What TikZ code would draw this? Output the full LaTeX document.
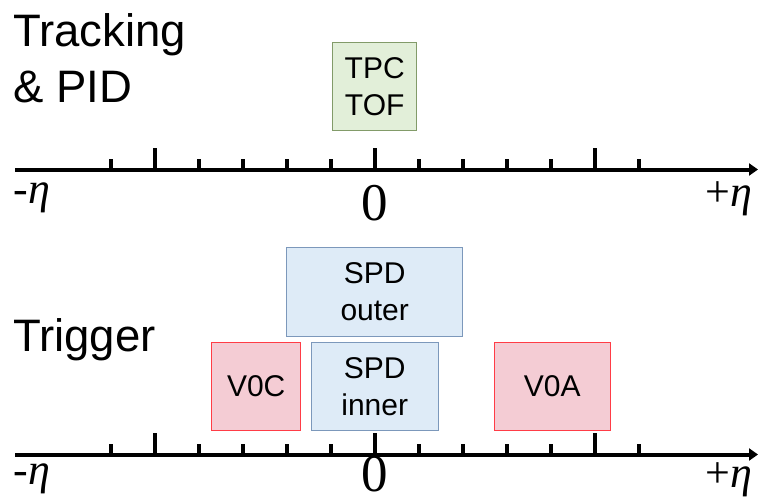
\documentclass[tikz,border=0pt]{standalone}
\usepackage{fontspec}
\setmainfont{Liberation Sans}
\newfontfamily\serifeta{Liberation Serif}
\usetikzlibrary{arrows.meta}
\definecolor{gfill}{RGB}{226,239,217}
\definecolor{gdraw}{RGB}{130,155,105}
\definecolor{bfill}{RGB}{222,235,247}
\definecolor{bdraw}{RGB}{124,152,187}
\definecolor{pfill}{RGB}{244,204,212}
\definecolor{pdraw}{RGB}{255,60,70}
\tikzset{
  axisline/.style={line width=4pt,-{Triangle[length=9pt,width=12pt]}},
  majortick/.style={line width=3.6pt},
  minortick/.style={line width=3.2pt},
  detbox/.style={line width=1.1pt,inner sep=0pt,align=center,
    font=\fontsize{30}{36.5}\selectfont},
  greenbox/.style={detbox,fill=gfill,draw=gdraw},
  bluebox/.style={detbox,fill=bfill,draw=bdraw},
  pinkbox/.style={detbox,fill=pfill,draw=pdraw},
  biglabel/.style={inner sep=0pt,anchor=base west,font=\fontsize{45.5}{50}\selectfont},
  etalabel/.style={inner sep=0pt,font=\serifeta\fontsize{44}{50}\selectfont},
  zerolabel/.style={inner sep=0pt,font=\serifeta\fontsize{53}{58}\selectfont}
}
\begin{document}
\begin{tikzpicture}[x=1pt,y=-1pt]
\useasboundingbox (0,0) rectangle (759,501);
% titles
\node[biglabel] (trk) at (13,46) {Tracking};
\node[biglabel] (pid) at (13,102) {\& PID};
\node[biglabel] (trg) at (13,351) {Trigger};
% boxes
\node[greenbox,minimum width=84pt,minimum height=88pt] (tpc) at (374.7,86.7) {TPC\\TOF};
\node[bluebox,minimum width=176pt,minimum height=88.7pt] (spdo) at (374.7,291.7) {SPD\\outer};
\node[bluebox,minimum width=126.7pt,minimum height=88.4pt] (spdi) at (374.7,386.5) {SPD\\inner};
\node[pinkbox,minimum width=89pt,minimum height=88.4pt] (v0c) at (256.2,386.5) {V0C};
\node[pinkbox,minimum width=115.7pt,minimum height=87.7pt] (v0a) at (552.2,386.2) {V0A};
% axes
\coordinate (a1s) at (15,169.5);
\coordinate (a1e) at (758,169.5);
\coordinate (a2s) at (15,454.5);
\coordinate (a2e) at (758,454.5);
\foreach \y in {169.5,454.5}{
  \foreach \x in {111,199,243,287,331,419,463,507,551,639}
    \draw[minortick] (\x,\y) -- (\x,\y-10.5);
  \foreach \x in {155,375,595}
    \draw[majortick] (\x,\y) -- (\x,\y-22);
}
\draw[axisline] (a1s) -- (a1e);
\draw[axisline] (a2s) -- (a2e);
% axis labels
\node[etalabel] (m1) at (32,198) {-\textit{η}};
\node[zerolabel] (z1) at (374.5,203) {0};
\node[etalabel] (p1) at (729,199) {+\textit{η}};
\node[etalabel] (m2) at (32,479) {-\textit{η}};
\node[zerolabel] (z2) at (374.5,474) {0};
\node[etalabel] (p2) at (729,480) {+\textit{η}};
\end{tikzpicture}
\end{document}
